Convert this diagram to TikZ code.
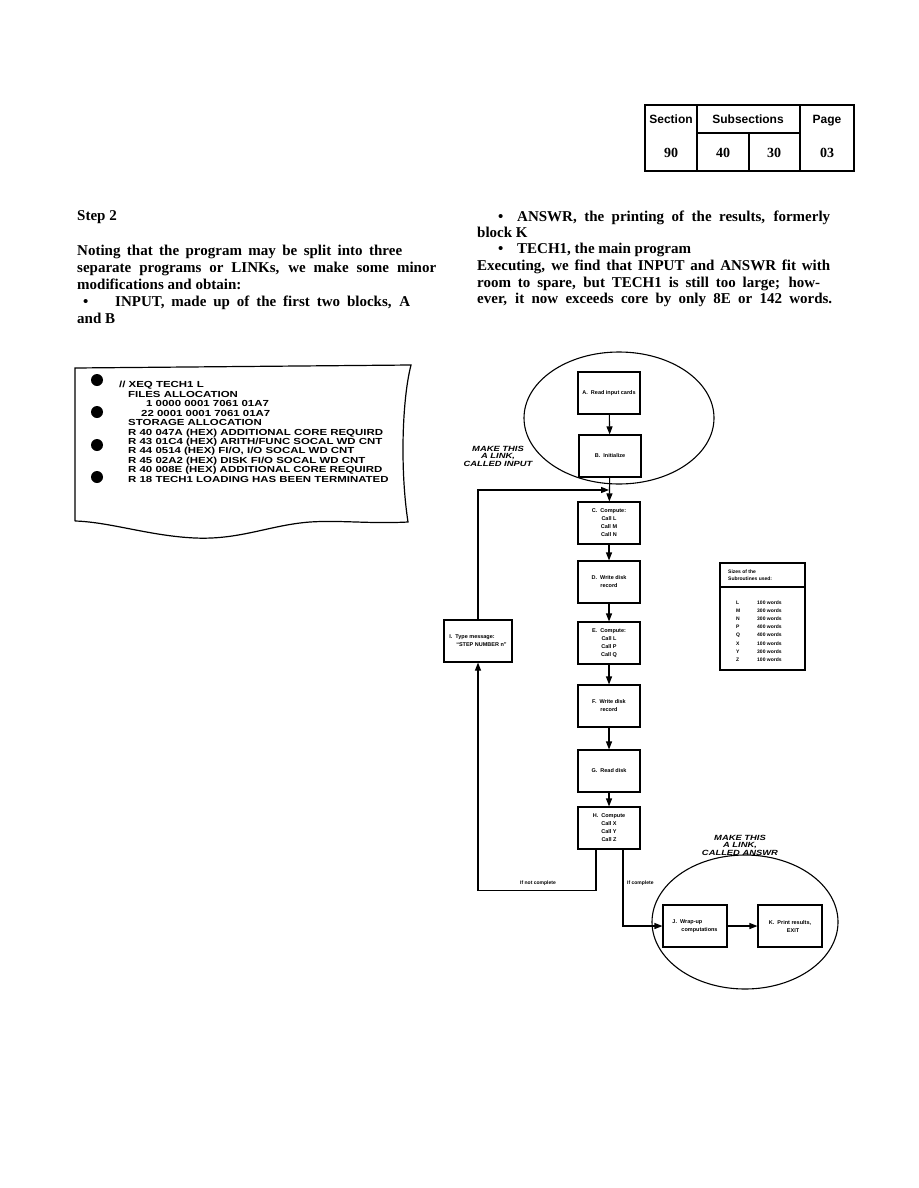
\documentclass[tikz,border=0pt]{standalone}
\usepackage{fontspec}
\setmainfont{Liberation Serif}
\setsansfont{Liberation Sans}
\usepackage{graphicx}
\usepackage{tikz}
\usetikzlibrary{shapes.geometric,arrows.meta}
\pgfdeclarelayer{paper}
\pgfdeclarelayer{bg}
\pgfsetlayers{paper,bg,main}
\newcommand{\printwide}[1]{\scalebox{1.3}[1]{#1}}
\newcommand{\handwide}[1]{\scalebox{1.25}[1]{#1}}
\tikzset{
    body/.style={anchor=base west, inner sep=0pt, font=\fontsize{15}{17}\selectfont\bfseries},
    block/.style={rectangle, draw, line width=1.1pt, fill=white, minimum width=62pt,
        minimum height=42pt, inner sep=1pt, align=center,
        font=\fontsize{5.5}{8}\sffamily\bfseries},
    flow/.style={line width=1.1pt, -{Triangle[length=8pt,width=6pt]}},
    wire/.style={line width=1.1pt},
    linkoval/.style={ellipse, draw, line width=1.1pt, inner sep=0pt},
    scrawl/.style={align=center, inner sep=0pt, font=\fontsize{7.5}{7.5}\sffamily\bfseries\itshape},
    tiny/.style={inner sep=0pt, font=\fontsize{5}{8.2}\sffamily\bfseries},
    printline/.style={anchor=base west, inner sep=0pt, font=\fontsize{8.8}{8.8}\sffamily\bfseries},
    hole/.style={circle, fill, minimum size=12pt, inner sep=0pt},
    headword/.style={anchor=base, inner sep=0pt, font=\fontsize{12}{12}\sffamily\bfseries},
    headnum/.style={anchor=base, inner sep=0pt, font=\fontsize{14}{14}\bfseries}
}
\begin{document}
\begin{tikzpicture}[x=1pt, y=-1pt]
  \begin{pgfonlayer}{paper}
    \fill[white] (0,0) rectangle (918,1188);
  \end{pgfonlayer}
  \useasboundingbox (0,0) rectangle (918,1188);

  \draw[line width=1.4pt] (645,105) rectangle (854,171);
  \draw[line width=1.4pt] (697,105) -- (697,171) (800,105) -- (800,171)
    (697,133) -- (800,133) (749,133) -- (749,171);
  \node (sectionhead) [headword] at (671,123.3) {Section};
  \node (subhead) [headword] at (748,123.3) {Subsections};
  \node (pagehead) [headword] at (827,123.3) {Page};
  \node (sectionno) [headnum] at (671,157.7) {90};
  \node (subone) [headnum] at (723,157.7) {40};
  \node (subtwo) [headnum] at (774,157.7) {30};
  \node (pageno) [headnum] at (827,157.7) {03};

  \node (steptwo) [body] at (77,220.5) {Step 2};
  \node (lefta) [body] at (77,255.5) {\makebox[325pt][s]{Noting that the program may be split into three}};
  \node (leftb) [body] at (77,272.5) {\makebox[359pt][s]{separate programs or LINKs, we make some minor}};
  \node (leftc) [body] at (77,289.5) {modifications and obtain:};
  \node (leftd) [body] at (83,306.5) {\makebox[32pt][l]{\textbullet}\makebox[295pt][s]{INPUT, made up of the first two blocks, A}};
  \node (lefte) [body] at (77,323.5) {and B};

  \node (righta) [body] at (498,221.5) {\makebox[19pt][l]{\textbullet}\makebox[313pt][s]{ANSWR, the printing of the results, formerly}};
  \node (rightb) [body] at (477,237.5) {block K};
  \node (rightc) [body] at (498,253.5) {\makebox[19pt][l]{\textbullet}TECH1, the main program};
  \node (rightd) [body] at (477,270.5) {\makebox[353pt][s]{Executing, we find that INPUT and ANSWR fit with}};
  \node (righte) [body] at (477,287.5) {\makebox[343pt][s]{room to spare, but TECH1 is still too large; how-}};
  \node (rightf) [body] at (477,303.5) {\makebox[355pt][s]{ever, it now exceeds core by only 8E or 142 words.}};

  \draw[line width=1.2pt] (75,521) -- (75,368) -- (411,365)
    .. controls (402,400) and (400,470) .. (408,522)
    .. controls (370,524) and (340,520) .. (310,522)
    .. controls (270,525) and (240,540) .. (195,538)
    .. controls (150,536) and (110,522) .. (75,521);
  \foreach \y [count=\n] in {380,412,445,477}
    \node (hole\n) [hole] at (97,\y) {};
  \node (p1) [printline] at (119,387.7) {\printwide{// XEQ TECH1 L}};
  \node (p2) [printline] at (128,397.4) {\printwide{FILES ALLOCATION}};
  \node (p3) [printline] at (146,406.7) {\printwide{1 0000 0001 7061 01A7}};
  \node (p4) [printline] at (141,416.1) {\printwide{22 0001 0001 7061 01A7}};
  \node (p5) [printline] at (128,425.7) {\printwide{STORAGE ALLOCATION}};
  \node (p6) [printline] at (128,435.1) {\printwide{R 40 047A (HEX) ADDITIONAL CORE REQUIRD}};
  \node (p7) [printline] at (128,444.4) {\printwide{R 43 01C4 (HEX) ARITH/FUNC SOCAL WD CNT}};
  \node (p8) [printline] at (128,453.7) {\printwide{R 44 0514 (HEX) FI/O, I/O SOCAL WD CNT}};
  \node (p9) [printline] at (128,463.4) {\printwide{R 45 02A2 (HEX) DISK FI/O SOCAL WD CNT}};
  \node (p10) [printline] at (128,472.7) {\printwide{R 40 008E (HEX) ADDITIONAL CORE REQUIRD}};
  \node (p11) [printline] at (128,482.4) {\printwide{R 18 TECH1 LOADING HAS BEEN TERMINATED}};

  \node (A) [block] at (609,393) {A.\ \ Read input cards};
  \node (B) [block] at (610,456) {B.\ \ Initialize};
  \node (C) [block] at (609,523) {C.\ \ Compute:\\Call L\\Call M\\Call N};
  \node (D) [block] at (609,582) {D.\ \ Write disk\\record};
  \node (E) [block] at (609,643) {E.\ \ Compute:\\Call L\\Call P\\Call Q};
  \node (F) [block] at (609,706) {F.\ \ Write disk\\record};
  \node (G) [block] at (609,771) {G.\ \ Read disk};
  \node (H) [block] at (609,828) {H.\ \ Compute\\Call X\\Call Y\\Call Z};
  \node (I) [block, minimum width=68pt, align=left] at (478,641) {I.\ \ Type message:\\\hspace{7pt}``STEP NUMBER n''};
  \node (J) [block, minimum width=64pt, align=left] at (695,926) {J.\ \ Wrap-up\\\hspace{9pt}computations};
  \node (K) [block, minimum width=64pt, align=left] at (790,926) {K.\ \ Print results,\\\hspace{18pt}EXIT};
  \coordinate (merge) at (609,490);

  \node (sizes) [draw, line width=1.1pt, minimum width=85pt, minimum height=107pt] at (762.5,616.5) {};
  \draw[wire] (720,587) -- (805,587);
  \node (sizehead) [tiny, anchor=west, align=left, font=\fontsize{5}{7}\sffamily\bfseries] at (728,575.5) {Sizes of the\\Subroutines used:};
  \node (sizelist) [tiny, anchor=west, align=left] at (736,631) {\makebox[21pt][l]{L}100 words\\
    \makebox[21pt][l]{M}300 words\\\makebox[21pt][l]{N}300 words\\
    \makebox[21pt][l]{P}400 words\\\makebox[21pt][l]{Q}400 words\\
    \makebox[21pt][l]{X}100 words\\\makebox[21pt][l]{Y}300 words\\
    \makebox[21pt][l]{Z}100 words};

  \node (notdone) [tiny] at (538,883) {If not complete};
  \node (done) [tiny, anchor=west] at (627,883) {If complete};
  \node (inputnote) [scrawl] at (498,456) {\handwide{MAKE THIS}\\\handwide{A LINK,}\\\handwide{CALLED INPUT}};
  \node (answrnote) [scrawl] at (740,845) {\handwide{MAKE THIS}\\\handwide{A LINK,}\\\handwide{CALLED ANSWR}};

  \begin{pgfonlayer}{bg}
    \node (inputlink) [linkoval, minimum width=190pt, minimum height=132pt] at (619,418) {};
    \node (answrlink) [linkoval, minimum width=186pt, minimum height=134pt] at (745,922) {};
    \draw[flow] (A) edge (B); \draw[flow] (B) edge (C);
    \draw[flow] (C) edge (D); \draw[flow] (D) edge (E);
    \draw[flow] (E) edge (F); \draw[flow] (F) edge (G);
    \draw[flow] (G) edge (H);
    \draw[flow] (I.north) |- (merge);
    \draw[flow] ([xshift=-13pt]H.south) -- ++(0,41) -| (I.south);
    \draw[flow] ([xshift=14pt]H.south) |- (J.west);
    \draw[flow] (J) edge (K);
  \end{pgfonlayer}
\end{tikzpicture}
\end{document}
